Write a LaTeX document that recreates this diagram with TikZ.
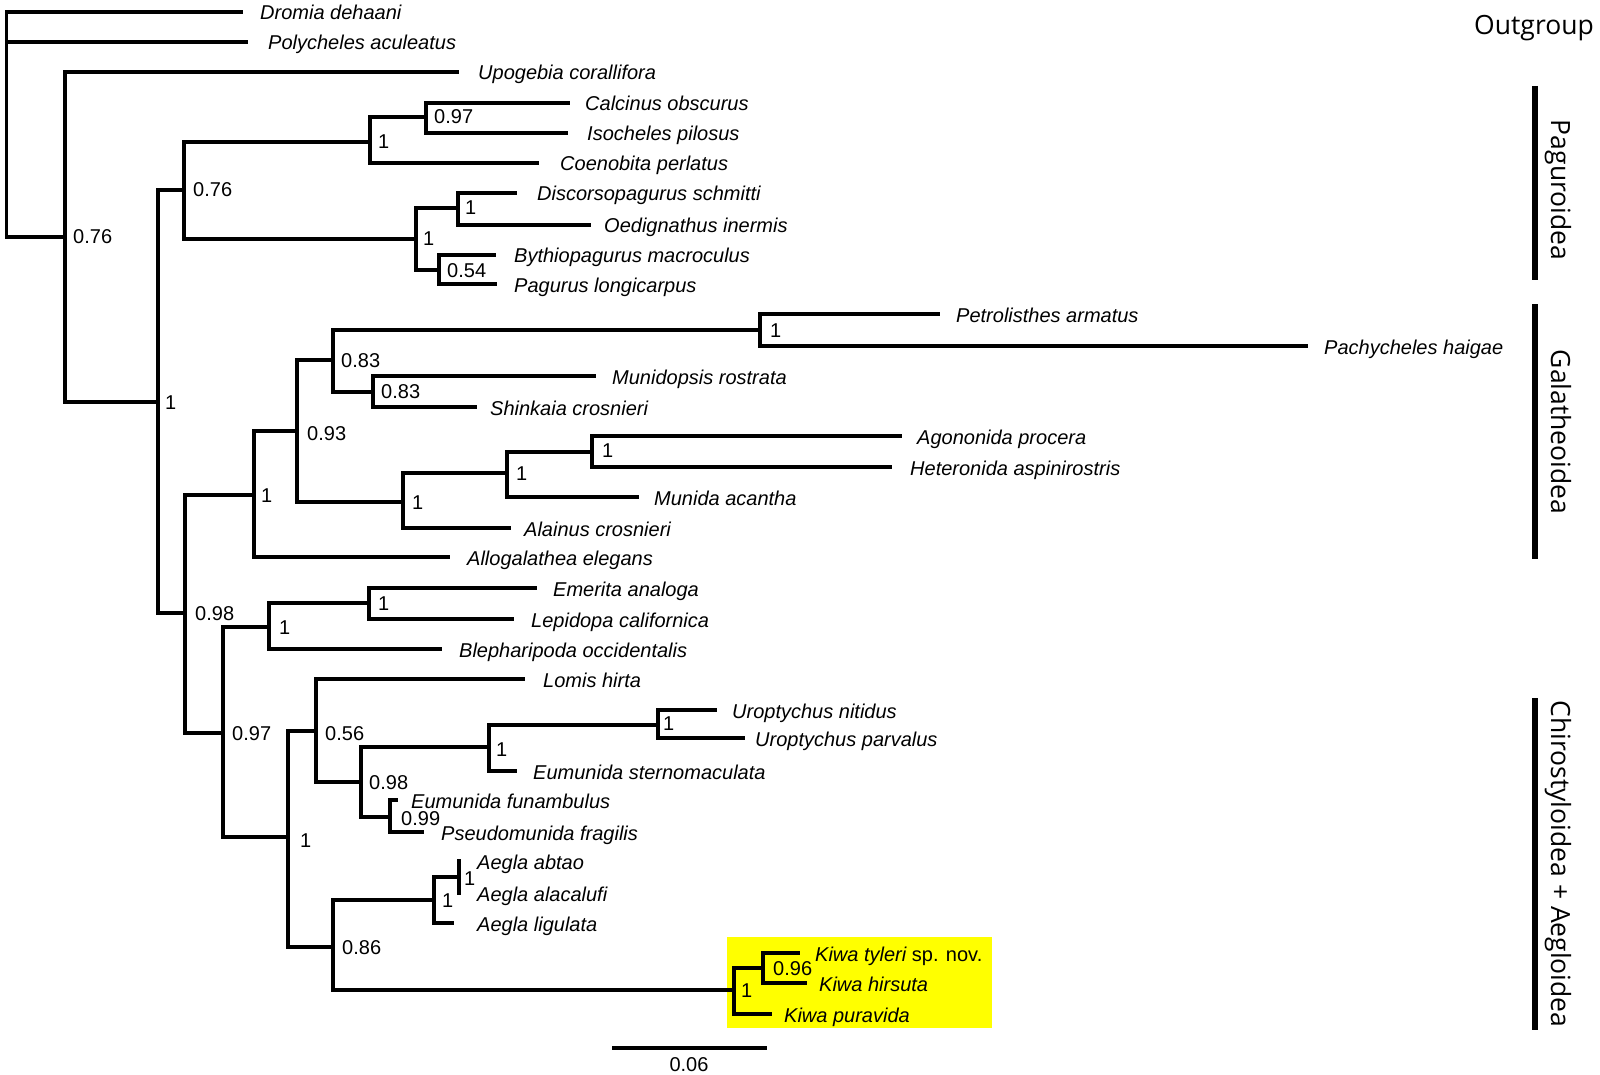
\documentclass[tikz,border=0pt]{standalone}
\usepackage{fontspec}
\setmainfont{Liberation Sans}
\newfontfamily\grpfont{Open Sans}
\definecolor{kiwayellow}{RGB}{255,255,0}
\begin{document}
\begin{tikzpicture}[x=1pt,y=-1pt,
  br/.style={line width=3.6pt},
  taxon/.style={anchor=base west,inner sep=0pt,yshift=-8pt,font=\fontsize{20}{24}\selectfont\itshape},
  supp/.style={anchor=base west,inner sep=0pt,yshift=-7pt,font=\fontsize{20}{24}\selectfont},
  grp/.style={inner sep=0pt,font=\grpfont\fontsize{26.5}{30}\selectfont},
  grpbar/.style={line width=6.5pt}]
\useasboundingbox (0,0) rectangle (1600,1075);
% highlight box
\fill[kiwayellow] (727,937) rectangle (992,1028);
% internal nodes
\coordinate (root) at (6.5,124.5);
\coordinate (nA) at (65,237);
\coordinate (nB) at (158,402);
\coordinate (nC) at (184,190);
\coordinate (nD) at (370,142);
\coordinate (nE) at (426,117);
\coordinate (nF) at (416,239);
\coordinate (nG) at (458,208);
\coordinate (nH) at (439,270);
\coordinate (nI) at (185,613);
\coordinate (nJ) at (254,495);
\coordinate (nK) at (297,431);
\coordinate (nL) at (333,360);
\coordinate (nM) at (760,330);
\coordinate (nN) at (373,392);
\coordinate (nO) at (403,502);
\coordinate (nP) at (507,473);
\coordinate (nQ) at (592,452);
\coordinate (nR) at (223,733);
\coordinate (nS) at (269,627);
\coordinate (nT) at (369,603);
\coordinate (nU) at (288,837);
\coordinate (nV) at (316,731);
\coordinate (nW) at (361,782);
\coordinate (nX) at (489,747);
\coordinate (nY) at (658,725);
\coordinate (nZ) at (390,817);
\coordinate (nAA) at (333,947);
\coordinate (nBB) at (434,900);
\coordinate (nCC) at (459,877);
\coordinate (nKK) at (734,990);
\coordinate (nLL) at (763,968);
% leaves: name / branch end x / y / label x / text
\foreach \n/\xe/\y/\xl/\t in {
  Dromia/243/12/260/Dromia dehaani,
  Polych/248/42/268/Polycheles aculeatus,
  Upog/459/72/478/Upogebia corallifora,
  Calc/570/103/585/Calcinus obscurus,
  Isoc/568/133/587/Isocheles pilosus,
  Coeno/539/163/560/Coenobita perlatus,
  Disc/517/193/537/Discorsopagurus schmitti,
  Oedi/591/225/604/Oedignathus inermis,
  Byth/496/255/514/Bythiopagurus macroculus,
  Pagu/497/284/514/Pagurus longicarpus,
  Petro/940/314/956/Petrolisthes armatus,
  Pachy/1308/346/1324/Pachycheles haigae,
  Munidop/596/376/612/Munidopsis rostrata,
  Shink/477/407/490/Shinkaia crosnieri,
  Agon/902/436/917/Agononida procera,
  Heter/892/467/910/Heteronida aspinirostris,
  Munida/639/497/654/Munida acantha,
  Alain/511/528/524/Alainus crosnieri,
  Allo/450/557/467/Allogalathea elegans,
  Emer/537/588/553/Emerita analoga,
  Lepi/514/619/531/Lepidopa californica,
  Bleph/442/649/459/Blepharipoda occidentalis,
  Lomis/525/679/543/Lomis hirta,
  Unit/717/710/732/Uroptychus nitidus,
  Uparv/745/738/755/Uroptychus parvalus,
  Esterno/517/771/533/Eumunida sternomaculata,
  Efun/398/800/411/Eumunida funambulus,
  Pseudo/424/832/441/Pseudomunida fragilis,
  Aabt/461/861/477/Aegla abtao,
  Aala/461/893/477/Aegla alacalufi,
  Alig/454/923/477/Aegla ligulata,
  Khirs/807/983/819/Kiwa hirsuta,
  Kpura/772/1014/784/Kiwa puravida}{
  \coordinate (t\n) at (\xe,\y);
  \node[taxon] (lab\n) at (\xl,\y) {\t};
}
\coordinate (tKtyl) at (800,953);
\node[taxon] (labKtyl) at (815,953) {Kiwa tyleri\upshape\ sp. nov.};
% branches
\foreach \p/\c in {root/tDromia, root/tPolych, root/nA,
  nA/tUpog, nA/nB, nB/nC, nB/nI, nC/nD, nC/nF, nD/nE, nD/tCoeno,
  nE/tCalc, nE/tIsoc, nF/nG, nF/nH, nG/tDisc, nG/tOedi, nH/tByth, nH/tPagu,
  nI/nJ, nI/nR, nJ/nK, nJ/tAllo, nK/nL, nK/nO, nL/nM, nL/nN,
  nM/tPetro, nM/tPachy, nN/tMunidop, nN/tShink, nO/nP, nO/tAlain,
  nP/nQ, nP/tMunida, nQ/tAgon, nQ/tHeter,
  nR/nS, nR/nU, nS/nT, nS/tBleph, nT/tEmer, nT/tLepi,
  nU/nV, nU/nAA, nV/tLomis, nV/nW, nW/nX, nW/nZ, nX/nY, nX/tEsterno,
  nY/tUnit, nY/tUparv, nZ/tEfun, nZ/tPseudo,
  nAA/nBB, nAA/nKK, nBB/nCC, nBB/tAlig, nCC/tAabt, nCC/tAala,
  nKK/nLL, nKK/tKpura, nLL/tKtyl, nLL/tKhirs}{
  \draw[br] (\p) |- (\c);
}
% support values
\foreach \n/\x/\y/\v in {
  A/73/237/0.76, B/165/402/1, C/193/190/0.76, D/378/142/1, E/434/117/0.97,
  F/423/239/1, G/465/208/1, H/447/270/0.54, I/195/613/0.98, J/261/495/1,
  K/307/433/0.93, L/341/360/0.83, M/770/330/1, N/381/391/0.83, O/412/502/1,
  P/516/473/1, Q/602/450/1, R/232/733/0.97, S/279/627/1, T/378/603/1,
  U/300/840/1, V/325/733/0.56, W/369/782/0.98, X/496/749/1, Y/663/723/1,
  Z/401/818/0.99, AA/342/947/0.86, BB/442/900/1, CC/464/878/1,
  KK/741/990/1, LL/773/968/0.96}{
  \node[supp] (s\n) at (\x,\y) {\v};
}
% scale bar
\coordinate (sbL) at (612,1048);
\coordinate (sbR) at (767,1048);
\draw[br] (sbL) -- (sbR);
\node[supp,anchor=base] (sbLab) at (689,1064) {0.06};
% group labels
\node[grp,anchor=base west] (gOut) at (1474,35) {Outgroup};
\coordinate (gPagT) at (1535,86);
\coordinate (gPagB) at (1535,280);
\draw[grpbar] (gPagT) -- (gPagB);
\node[grp,anchor=base,rotate=-90] (gPag) at (1551,190) {Paguroidea};
\coordinate (gGalT) at (1535,304);
\coordinate (gGalB) at (1535,559);
\draw[grpbar] (gGalT) -- (gGalB);
\node[grp,anchor=base,rotate=-90] (gGal) at (1551,432) {Galatheoidea};
\coordinate (gChiT) at (1535,698);
\coordinate (gChiB) at (1535,1030);
\draw[grpbar] (gChiT) -- (gChiB);
\node[grp,anchor=base,rotate=-90] (gChi) at (1551,864) {Chirostyloidea + Aegloidea};
\end{tikzpicture}
\end{document}
